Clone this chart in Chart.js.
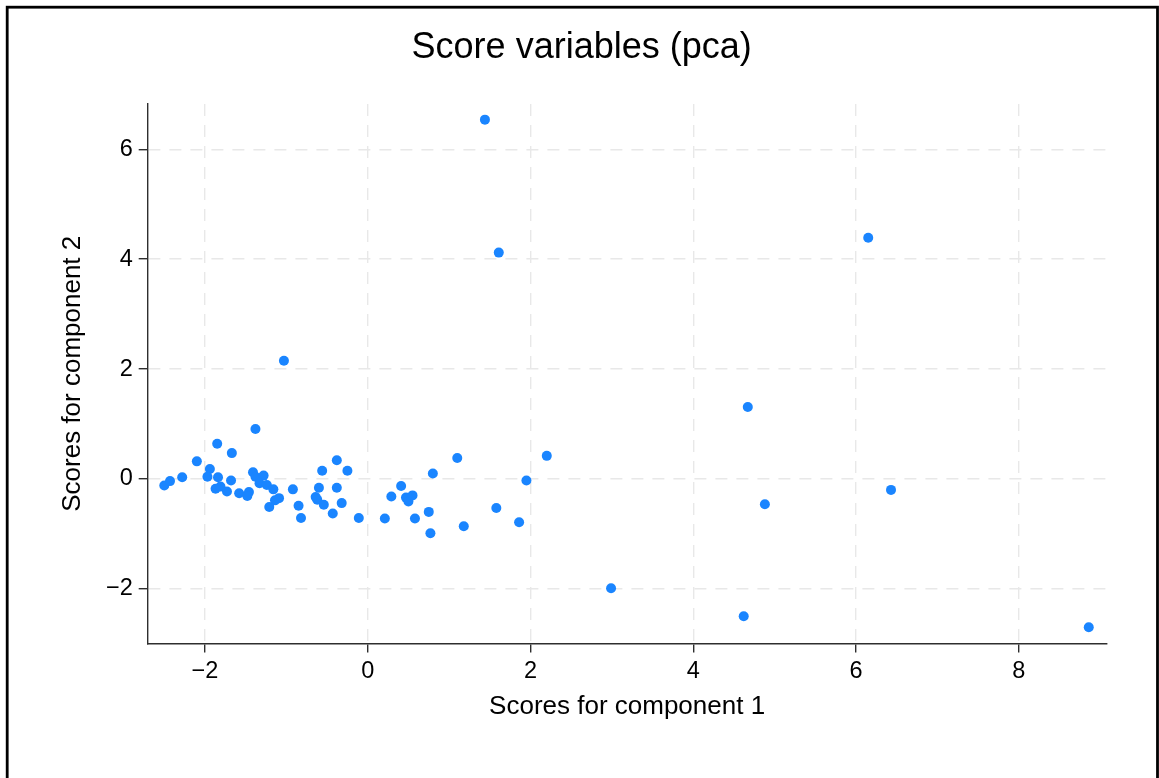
<!DOCTYPE html>
<html>
<head>
<meta charset="utf-8">
<title>Score variables (pca)</title>
<script src="https://cdn.jsdelivr.net/npm/chart.js@4/dist/chart.umd.min.js"></script>
<style>
  html, body { margin: 0; padding: 0; background: #fff; overflow: hidden; }
  canvas { display: block; }
</style>
</head>
<body>
<canvas id="scoreChart" width="1159" height="778"></canvas>
<script>
// Scores (component 1 on x, component 2 on y)
const comp1Scores = [
  -2.50, -2.43, -2.28, -2.10, -1.85, -1.67, -1.38, -1.94, -1.97, -1.84,
  -1.87, -1.81, -1.73, -1.68, -1.58, -1.46, -1.48, -1.41, -1.38, -1.28,
  -1.33, -1.24, -1.16, -1.14, -1.09, -1.21, -0.92, -0.85, -0.82, -0.56,
  -0.60, -0.64, -0.62, -0.54, -0.43, -0.38, -0.38, -0.32, -0.25, -0.11,
  0.21, 0.29, 0.41, 0.47, 0.50, 0.55, 0.58, 0.75, 0.77, 0.80,
  1.10, 1.18, 1.58, 1.86, 1.95, 2.20, 1.44, 1.61, -1.03, 6.15,
  4.67, 4.88, 6.43, 2.99, 4.62, 8.86
]
const comp2Scores = [
  -0.12, -0.04, 0.03, 0.32, 0.64, 0.47, 0.91, 0.18, 0.04, 0.03,
  -0.18, -0.14, -0.23, -0.03, -0.26, -0.24, -0.31, 0.12, 0.04, 0.06,
  -0.08, -0.11, -0.19, -0.39, -0.35, -0.51, -0.19, -0.49, -0.71, 0.15,
  -0.16, -0.33, -0.38, -0.47, -0.63, 0.34, -0.16, -0.44, 0.15, -0.71,
  -0.72, -0.32, -0.13, -0.34, -0.41, -0.30, -0.72, -0.60, -0.99, 0.10,
  0.38, -0.86, -0.53, -0.79, -0.03, 0.42, 6.54, 4.12, 2.15, 4.39,
  1.31, -0.46, -0.20, -1.99, -2.50, -2.70
]

const xTickValues = [-2, 0, 2, 4, 6, 8]
const yTickValues = [-2, 0, 2, 4, 6]

const fontFamily = '"Liberation Sans", Arial, Helvetica, sans-serif'
const dotColor = '#1a85ff'
const axisColor = '#2e2e2e'
const gridColor = '#e8e8e8'

function formatTick(value) {
  // Stata style uses a real minus sign
  return value < 0 ? '\u2212' + Math.abs(value) : String(value)
}

// Outer frame round the whole graph
const framePlugin = {
  id: 'frame',
  afterDraw(chart) {
    const ctx = chart.ctx
    ctx.save()
    ctx.strokeStyle = '#000'
    ctx.lineWidth = 2.8
    ctx.strokeRect(7.2, 7.2, 1150.3, 900)
    ctx.restore()
  }
}

const points = comp1Scores.map((x, i) => ({ x: x, y: comp2Scores[i] }))

new Chart(document.getElementById('scoreChart'), {
  type: 'scatter',
  data: {
    datasets: [{
      data: points,
      backgroundColor: dotColor,
      borderWidth: 0,
      pointRadius: 5,
      pointHoverRadius: 5
    }]
  },
  options: {
    responsive: false,
    devicePixelRatio: 1,
    animation: false,
    events: [],
    layout: {
      padding: { left: 56.8, right: 52.5, top: 0, bottom: 55.2 }
    },
    plugins: {
      legend: { display: false },
      tooltip: { enabled: false },
      title: {
        display: true,
        text: 'Score variables (pca)',
        color: '#000',
        font: { family: fontFamily, size: 36, weight: 'normal' },
        padding: { top: 26.1, bottom: 34.7 }
      }
    },
    scales: {
      x: {
        type: 'linear',
        min: -2.704,
        max: 9.078,
        afterBuildTicks: (scale) => {
          scale.ticks = xTickValues.map(v => ({ value: v }))
        },
        afterFit: (scale) => { scale.height = 79.3 },
        ticks: {
          color: '#000',
          font: { family: fontFamily, size: 23.5 },
          padding: 5,
          maxRotation: 0,
          callback: (value) => formatTick(value)
        },
        grid: {
          color: gridColor,
          lineWidth: 1.4,
          tickLength: 9,
          tickColor: axisColor,
          tickWidth: 1.4
        },
        border: { display: true, color: axisColor, width: 1.4, dash: [12, 9] },
        title: {
          display: true,
          text: 'Scores for component 1',
          color: '#000',
          font: { family: fontFamily, size: 26 },
          padding: 0
        }
      },
      y: {
        type: 'linear',
        min: -2.996,
        max: 6.825,
        afterBuildTicks: (scale) => {
          scale.ticks = yTickValues.map(v => ({ value: v }))
        },
        afterFit: (scale) => { scale.width = 90.9 },
        ticks: {
          color: '#000',
          font: { family: fontFamily, size: 23.5 },
          padding: 6,
          callback: (value) => formatTick(value)
        },
        grid: {
          color: gridColor,
          lineWidth: 1.4,
          tickLength: 9,
          tickColor: axisColor,
          tickWidth: 1.4
        },
        border: { display: true, color: axisColor, width: 1.4, dash: [12, 9] },
        title: {
          display: true,
          text: 'Scores for component 2',
          color: '#000',
          font: { family: fontFamily, size: 26 },
          padding: 0
        }
      }
    }
  },
  plugins: [framePlugin]
})
</script>
</body>
</html>
